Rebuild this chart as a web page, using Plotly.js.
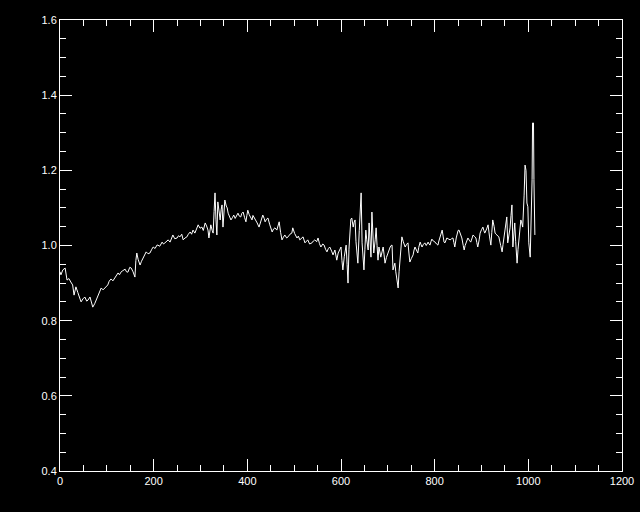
<!DOCTYPE html>
<html>
<head>
<meta charset="utf-8">
<script src="https://cdn.plot.ly/plotly-3.0.1.min.js"></script>
<style>html,body{margin:0;padding:0;background:#000;}#chart{width:640px;height:512px;}</style>
</head>
<body>
<div id="chart"></div>
<script>
// Data
const wavelength = [
0,2,6,11,15,19,23,27,30,34,38,41,45,49,53,57,60,64,67,70,74,79,83,88,92,97,102,105,109,113,117,121,124,127,130,134,139,142,145,149,152,156,160,162,164,167,171,174,177,181,184,188,192,196,199,203,207,
209,213,218,221,224,228,231,235,238,241,245,250,253,256,260,263,267,271,274,278,281,284,288,291,295,299,303,306,310,313,316,318,320,322,325,327,329,331,333,335,337,340,342,344,346,348,350,352,355,357,359,362,365,368,371,374,377,380,383,386,388,391,394,397,399,401,404,407,410,412,414,417,
421,425,429,433,436,438,441,444,448,453,456,459,463,466,468,471,474,477,480,484,487,491,495,497,501,506,509,512,516,519,523,526,529,533,538,541,544,548,551,554,557,561,564,567,570,573,576,580,583,587,589,591,594,597,600,602,604,607,611,613,615,
617,619,621,623,626,628,630,632,634,636,639,641,643,645,647,649,651,653,655,658,660,662,664,666,668,670,673,675,677,679,681,683,685,688,690,692,694,697,700,703,705,707,709,711,713,715,717,719,722,724,726,728,730,733,737,740,743,745,747,750,754,756,758,761,764,766,769,771,773,776,779,782,786,788,790,792,794,797,801,804,807,809,811,814,816,818,820,
822,824,826,830,833,836,839,841,843,846,848,850,852,855,858,861,863,865,867,869,871,874,877,880,882,885,888,890,892,895,897,900,903,905,907,911,914,917,920,922,924,927,929,931,933,935,937,941,944,946,948,951,954,956,958,961,963,965,967,969,971,973,976,978,980,982,984,986,988,991,993,995,997,999,1001,1004,1006,1008,1009,1011,1012,1013,1014
];
const flux = [
0.930,0.922,0.935,0.940,0.908,0.912,0.903,0.895,0.868,0.890,0.875,0.862,0.850,0.858,0.863,0.852,0.855,0.863,0.848,0.836,0.845,0.860,0.872,0.887,0.882,0.890,0.895,0.905,0.911,0.906,0.914,0.920,0.927,0.922,0.929,0.933,0.937,0.930,0.929,0.942,0.940,0.930,0.916,0.960,0.980,0.962,0.948,0.958,0.967,0.975,0.983,0.978,0.980,0.990,0.996,0.992,1.001,
1.001,0.998,1.009,1.004,1.007,1.012,1.015,1.009,1.020,1.028,1.018,1.020,1.026,1.023,1.030,1.015,1.020,1.023,1.030,1.036,1.030,1.041,1.033,1.045,1.055,1.046,1.049,1.040,1.060,1.052,1.041,1.020,1.045,1.055,1.040,1.033,1.090,1.140,1.070,1.028,1.116,1.090,1.068,1.095,1.108,1.049,1.095,1.121,1.105,1.100,1.086,1.075,1.068,1.074,1.081,1.072,1.080,1.086,1.078,1.076,1.085,1.089,1.075,1.063,1.080,1.094,1.082,1.075,1.068,1.080,1.076,1.068,
1.060,1.049,1.065,1.081,1.072,1.063,1.070,1.073,1.055,1.036,1.044,1.047,1.041,1.055,1.063,1.035,1.015,1.022,1.028,1.020,1.023,1.030,1.033,1.047,1.032,1.020,1.025,1.015,1.020,1.023,1.007,1.010,1.015,1.004,1.007,1.012,1.015,1.010,1.020,1.005,0.996,1.004,1.001,0.990,0.983,0.992,0.996,0.985,0.975,0.988,0.975,0.961,0.980,0.990,0.996,0.960,0.935,0.970,1.001,0.950,0.900,
0.990,1.049,1.070,1.073,1.049,1.062,1.068,1.010,0.969,0.953,1.040,1.100,1.140,1.007,0.960,0.935,0.990,1.041,1.015,0.988,1.060,1.010,0.969,1.089,1.030,0.980,1.015,1.047,1.000,0.961,0.996,0.985,0.969,0.985,0.996,0.975,0.953,0.968,0.980,0.992,0.996,1.000,1.001,0.935,0.945,0.953,0.930,0.916,0.887,0.930,0.969,1.000,1.023,1.010,0.996,1.003,1.007,0.980,0.956,0.965,0.975,0.988,0.996,0.988,0.980,0.995,1.009,1.002,0.996,1.003,1.007,1.000,1.009,1.004,1.001,1.010,1.017,1.012,1.009,1.004,1.001,1.012,1.020,1.030,1.041,1.025,1.009,
1.007,1.014,1.020,1.017,1.015,1.018,1.020,1.008,0.996,1.020,1.036,1.040,1.041,1.030,1.020,1.000,0.988,1.000,1.007,1.014,1.020,1.014,1.009,1.020,1.028,1.024,1.020,1.008,0.996,1.015,1.033,1.042,1.049,1.040,1.033,1.044,1.055,1.025,1.001,1.035,1.068,1.050,1.033,1.030,1.028,1.025,1.023,1.000,0.983,1.003,1.023,1.050,1.076,1.007,1.025,1.047,1.080,1.108,0.996,1.030,1.060,1.010,0.953,0.990,1.023,1.045,1.068,1.060,1.049,1.134,1.214,1.200,1.113,1.103,1.007,0.969,1.060,1.175,1.326,1.326,1.175,1.060,1.028
];
const xTicks = [0, 200, 400, 600, 800, 1000, 1200];
const yTicks = [0.4, 0.6, 0.8, 1.0, 1.2, 1.4, 1.6];

const fontFam = 'Liberation Sans, Arial, Helvetica, sans-serif';
const axisCommon = {
  showgrid: false, zeroline: false, showline: true, linecolor: '#ffffff', linewidth: 1,
  mirror: 'allticks', ticks: 'inside', ticklen: 12, tickwidth: 1, tickcolor: '#ffffff',
  tickfont: {color: '#ffffff', size: 11, family: fontFam}
};
const trace = {
  x: wavelength, y: flux, type: 'scatter', mode: 'lines',
  line: {color: '#ffffff', width: 1}, hoverinfo: 'skip'
};
const layout = {
  width: 640, height: 512,
  margin: {l: 60, r: 18, t: 20, b: 41},
  paper_bgcolor: '#000000', plot_bgcolor: '#000000',
  showlegend: false,
  xaxis: Object.assign({}, axisCommon, {
    range: [0, 1200], tickmode: 'array', tickvals: xTicks, ticktext: xTicks.map(String),
    minor: {dtick: 50, tick0: 0, ticks: 'inside', ticklen: 6, tickcolor: '#ffffff', tickwidth: 1, showgrid: false}
  }),
  yaxis: Object.assign({}, axisCommon, {
    range: [0.4, 1.6], tickmode: 'array', tickvals: yTicks, ticktext: yTicks.map(v => v.toFixed(1)),
    minor: {dtick: 0.05, tick0: 0.4, ticks: 'inside', ticklen: 6, tickcolor: '#ffffff', tickwidth: 1, showgrid: false}
  })
};
Plotly.newPlot('chart', [trace], layout, {displayModeBar: false, staticPlot: true});
</script>
</body>
</html>
